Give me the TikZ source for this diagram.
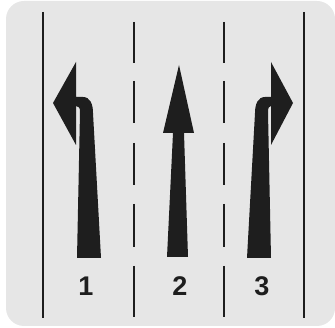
\documentclass[tikz,border=0pt]{standalone}
\usepackage{fontspec}
\setsansfont{Liberation Sans}
\definecolor{roadgray}{HTML}{E6E6E6}
\definecolor{markblack}{HTML}{1E1E1E}

\begin{document}
\begin{tikzpicture}[
    x=1pt, y=-1pt,
    borderline/.style={draw=markblack, line width=2.6pt},
    laneline/.style={draw=markblack, line width=1.4pt},
    arrowfill/.style={fill=markblack},
    lanenum/.style={font=\sffamily\bfseries\fontsize{27}{27}\selectfont, text=markblack},
  ]
  \useasboundingbox (0,0) rectangle (335,328);

  % Background
  \fill[roadgray, rounded corners=18pt] (6,1) rectangle (335,326);

  % === Edge lines ===
  \draw[borderline] (43,12) -- (43,318);
  \draw[borderline] (304,12) -- (304,318);

  % === Lane dividers ===
  \foreach \xx in {134,224} {
    \foreach \ya/\yb in {22/63, 81/123, 143/185, 204/247, 266/317}
      \draw[laneline] (\xx,\ya) -- (\xx,\yb);
  }

  % === Lane 1: left turn ===
  \fill[arrowfill] (77,258) -- (80,112) .. controls (80,108) and (79,106) .. (76,106)
    -- (76,145) -- (53,103) -- (76,62) -- (76,97) -- (83,97)
    .. controls (90,97) and (93,104) .. (93,113) -- (101,258) -- cycle;

  % === Lane 2: straight on ===
  \fill[arrowfill] (167,257) -- (173,133) -- (163,133) -- (179,65)
    -- (194,133) -- (184,133) -- (188,257) -- cycle;

  % === Lane 3: right turn ===
  \fill[arrowfill] (271,258) -- (268,112) .. controls (268,108) and (269,106) .. (271,106)
    -- (271,145) -- (293,103) -- (271,62) -- (271,97) -- (265,97)
    .. controls (258,97) and (255,104) .. (255,113) -- (247,258) -- cycle;

  % Lane numbers
  \node[lanenum] (num1) at (86,286) {1};
  \node[lanenum] (num2) at (180,286) {2};
  \node[lanenum] (num3) at (262,286) {3};

\end{tikzpicture}
\end{document}
